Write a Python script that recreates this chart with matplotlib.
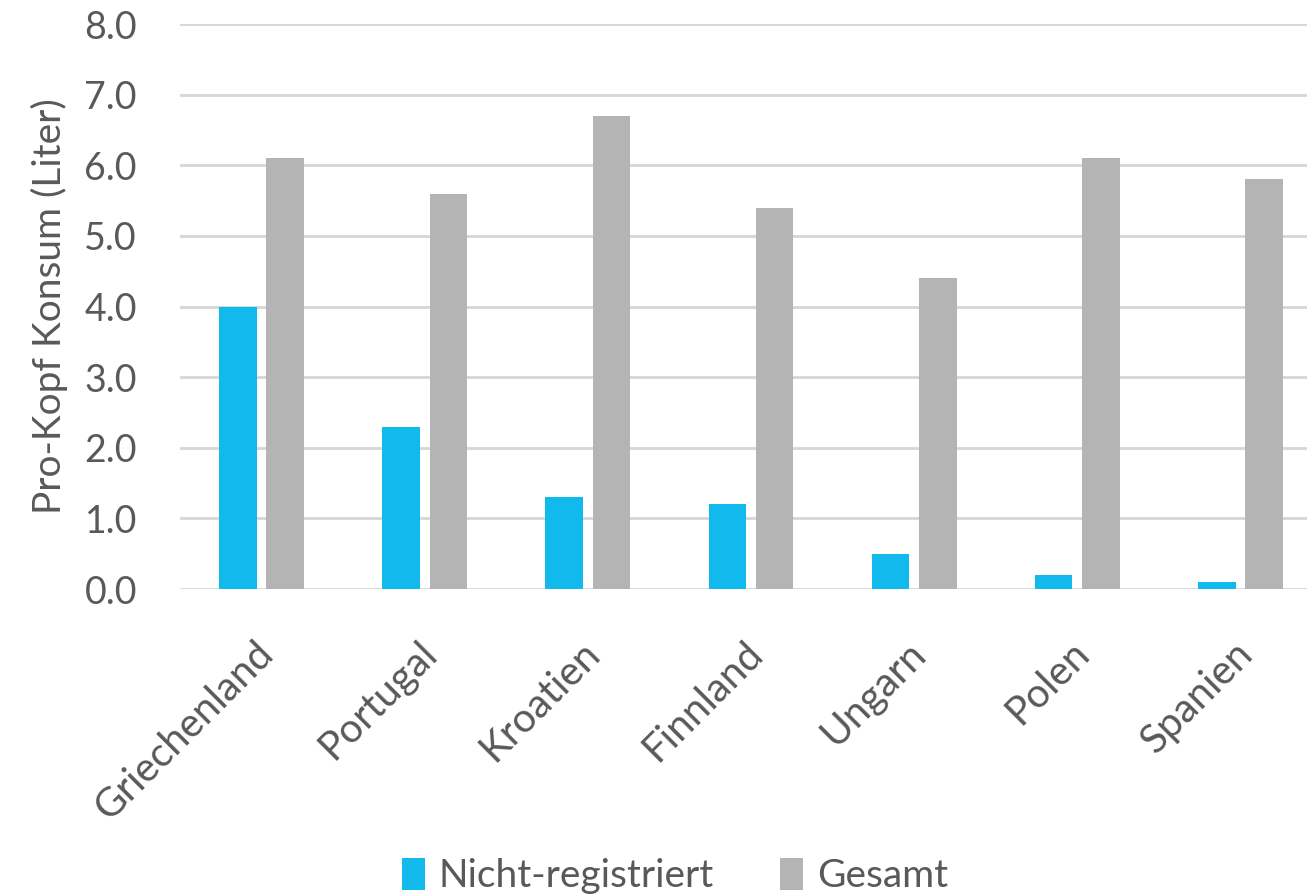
import numpy as np
import matplotlib.pyplot as plt
import matplotlib.transforms as mtransforms

plt.rcParams['font.family'] = ['Lato', 'DejaVu Sans']

# Pro-Kopf Konsum je Land
laender = ['Griechenland', 'Portugal', 'Kroatien', 'Finnland', 'Ungarn', 'Polen', 'Spanien']
nicht_registriert = [4.0, 2.3, 1.3, 1.2, 0.5, 0.2, 0.1]
gesamt = [6.1, 5.6, 6.7, 5.4, 4.4, 6.1, 5.8]
y_ticks = [0.0, 1.0, 2.0, 3.0, 4.0, 5.0, 6.0, 7.0, 8.0]

blau = '#12B9EC'
grau = '#B4B4B4'
text_farbe = '#595959'

fig = plt.figure(figsize=(13.07, 8.96), dpi=100)
ax = fig.add_axes([180 / 1307, 1 - 589 / 896, 1142 / 1307, 565 / 896])

x = np.arange(len(laender))
breite = 0.23
ax.bar(x - 0.145, nicht_registriert, breite, color=blau, label='Nicht-registriert', zorder=3)
ax.bar(x + 0.145, gesamt, breite, color=grau, label='Gesamt', zorder=3)

ax.set_xlim(-0.5, len(laender) - 0.5)
ax.set_ylim(0, 8)
ax.set_yticks(y_ticks)
ax.set_yticklabels([f'{v:.1f}' for v in y_ticks])
ax.yaxis.grid(True, color='#D6D6D6', linewidth=2, zorder=0)
for s in ax.spines.values():
    s.set_visible(False)
ax.tick_params(axis='y', length=0, pad=31, labelsize=27, labelcolor=text_farbe)
ax.tick_params(axis='x', length=0, pad=42, labelsize=29, labelcolor=text_farbe)

ax.set_xticks(x)
ax.set_xticklabels(laender, rotation=45, ha='right', va='center', rotation_mode='anchor')
verschiebung = mtransforms.ScaledTranslation(6 / 100, 0, fig.dpi_scale_trans)
for lbl in ax.get_xticklabels():
    lbl.set_transform(lbl.get_transform() + verschiebung)

ax.set_ylabel('Pro-Kopf Konsum (Liter)', fontsize=28, color=text_farbe)
ax.yaxis.set_label_coords(-112 / 1142, 0.5)

fig.legend(loc='center', bbox_to_anchor=(675 / 1307, 1 - 876 / 896), ncol=2, frameon=False,
           fontsize=28, labelcolor=text_farbe, handlelength=0.6, handleheight=0.9,
           handletextpad=0.35, columnspacing=1.7)

fig.savefig('out.png', dpi=100)
